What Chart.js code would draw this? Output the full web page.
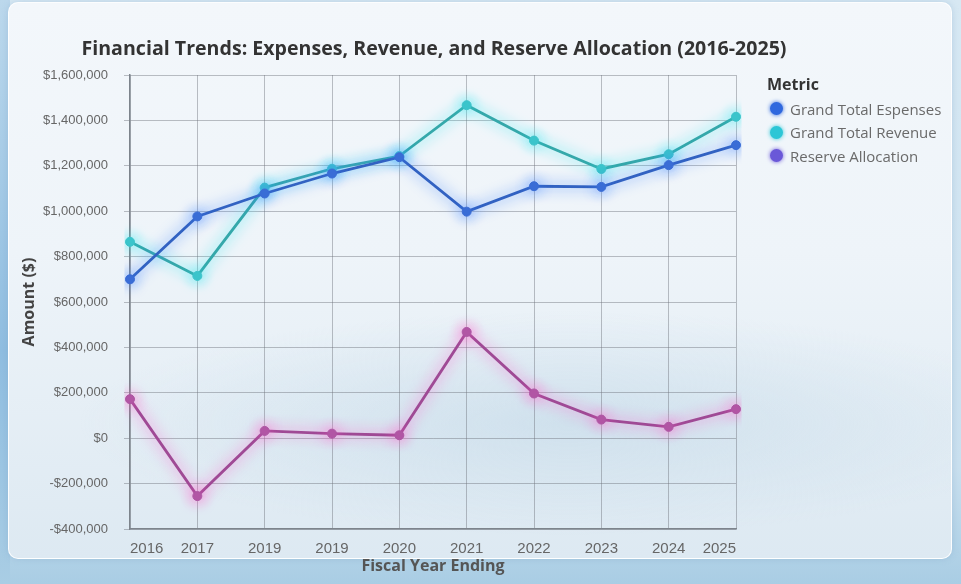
<!DOCTYPE html>
<html>
<head>
<meta charset="utf-8">
<script src="https://cdn.jsdelivr.net/npm/chart.js@4.4.1/dist/chart.umd.min.js"></script>
<style>
  html, body { margin: 0; padding: 0; }
  body {
    width: 961px; height: 584px; overflow: hidden; position: relative;
    font-family: "Open Sans", "Noto Sans", sans-serif;
    background: linear-gradient(180deg, #d7e8f3 0%, #c9dfee 80%, #a9cde4 100%);
  }
  .card {
    position: absolute; left: 8px; top: 2px; width: 942px; height: 555px;
    border-radius: 10px;
    background:
      radial-gradient(ellipse 700px 160px at 560px 420px, rgba(190,214,230,0.55), rgba(190,214,230,0) 70%),
      linear-gradient(180deg, #f3f7fb 0%, #eef4f9 45%, #dde9f2 100%);
    border: 1px solid rgba(255,255,255,0.9);
    box-shadow: 0 0 6px rgba(120,160,200,0.35);
  }
  .edge {
    position: absolute; left: 0; top: 0; width: 10px; height: 584px;
    background: linear-gradient(180deg, #bcd8ec, #8fbde0 60%, #a9cde4);
  }
  canvas { position: absolute; left: 0; top: 0; }
  .legend { position: absolute; left: 767px; top: 73px; color: #6a6a6a; font-size: 15px; }
  .legend .ttl { font-weight: bold; color: #333; font-size: 16px; height: 24px; }
  .legend .item { display: flex; align-items: center; height: 23.5px; margin-left: 3px; }
  .legend .dot { width: 13px; height: 13px; border-radius: 50%; margin-right: 7px; }
</style>
</head>
<body>
<div class="edge"></div>
<div class="card"></div>
<canvas id="chart" width="961" height="584"></canvas>
<div class="legend" id="legend"></div>
<script>
// data
const years = ["2016", "2017", "2019", "2019", "2020", "2021", "2022", "2023", "2024", "2025"];
const expenses = [700000, 977000, 1078000, 1166000, 1238000, 998000, 1110000, 1107000, 1203000, 1291000];
const revenue = [865000, 715000, 1104000, 1187000, 1243000, 1467000, 1311000, 1186000, 1251000, 1416000];
const reserve = [172000, -255000, 32000, 20000, 13000, 468000, 197000, 82000, 50000, 128000];

const seriesNames = ["Grand Total Espenses", "Grand Total Revenue", "Reserve Allocation"];
const legendColors = ["#2f68de", "#2cc6d6", "#6a58d8"];
const chartTitle = "Financial Trends: Expenses, Revenue, and Reserve Allocation (2016-2025)";

// glow under each line
const glowPlugin = {
  id: "glow",
  beforeDatasetDraw(chart, args) {
    const ds = chart.data.datasets[args.index];
    chart.ctx.save();
    chart.ctx.shadowColor = ds.glowColor;
    chart.ctx.shadowBlur = 14;
  },
  afterDatasetDraw(chart) {
    chart.ctx.restore();
  },
};

// title centred over the plot area, not squeezed to its width
const titlePlugin = {
  id: "plotTitle",
  afterDraw(chart) {
    const { ctx, chartArea } = chart;
    ctx.save();
    ctx.font = "bold 19.6px 'Open Sans'";
    ctx.fillStyle = "#333";
    ctx.textAlign = "center";
    ctx.textBaseline = "middle";
    ctx.fillText(chartTitle, (chartArea.left + chartArea.right) / 2 + 1, 49);
    ctx.restore();
  },
};

const money = (v) => (v < 0 ? "-$" : "$") + Math.abs(v).toLocaleString("en-US");

new Chart(document.getElementById("chart"), {
  type: "line",
  data: {
    labels: years,
    datasets: [
      {
        label: seriesNames[0],
        data: expenses,
        borderColor: "#3262c2",
        backgroundColor: "#3a6cd4",
        glowColor: "rgba(60,130,255,0.95)",
      },
      {
        label: seriesNames[1],
        data: revenue,
        borderColor: "#35a8aa",
        backgroundColor: "#3cc3c9",
        glowColor: "rgba(40,230,240,0.95)",
      },
      {
        label: seriesNames[2],
        data: reserve,
        borderColor: "#9f4a95",
        backgroundColor: "#ad56a3",
        glowColor: "rgba(255,90,200,0.95)",
      },
    ].map((d) => ({ ...d, borderWidth: 2.8, pointRadius: 4.5, pointBorderWidth: 1, pointBorderColor: d.backgroundColor, tension: 0 })),
  },
  options: {
    responsive: false,
    animation: false,
    layout: { padding: { top: 75, left: 14, right: 225, bottom: 4 } },
    plugins: {
      legend: { display: false },
      tooltip: { enabled: false },
      title: { display: false },
    },
    scales: {
      x: {
        offset: false,
        afterFit: (s) => { s.height = 51; },
        grid: { color: "rgba(110,115,125,0.45)", drawTicks: false },
        border: { color: "#7d848c", width: 1.5 },
        ticks: { align: "inner", padding: 11, color: "#666", font: { family: "Liberation Sans", size: 15 }, maxRotation: 0, autoSkip: false },
        title: {
          display: true,
          text: "Fiscal Year Ending",
          color: "#555",
          font: { family: "Open Sans", size: 16, weight: "bold" },
          padding: { top: 4, bottom: 4 },
        },
      },
      y: {
        min: -400000,
        max: 1600000,
        afterFit: (s) => { s.width = 116; },
        grid: { color: "rgba(110,115,125,0.45)", tickLength: 6 },
        border: { color: "#7d848c", width: 1.5 },
        ticks: { stepSize: 200000, padding: 16, color: "#666", font: { family: "Liberation Sans", size: 13 }, callback: money },
        title: {
          display: true,
          text: "Amount ($)",
          color: "#444",
          font: { family: "Open Sans", size: 16, weight: "bold" },
          padding: { top: 6, bottom: 0 },
        },
      },
    },
  },
  plugins: [glowPlugin, titlePlugin],
});

// legend drawn next to the chart
const legend = document.getElementById("legend");
legend.innerHTML = '<div class="ttl">Metric</div>' + seriesNames.map((n, i) =>
  '<div class="item"><span class="dot" style="background:' + legendColors[i] +
  ';box-shadow:0 0 4px ' + legendColors[i] + '"></span>' + n + '</div>').join("");
</script>
</body>
</html>
